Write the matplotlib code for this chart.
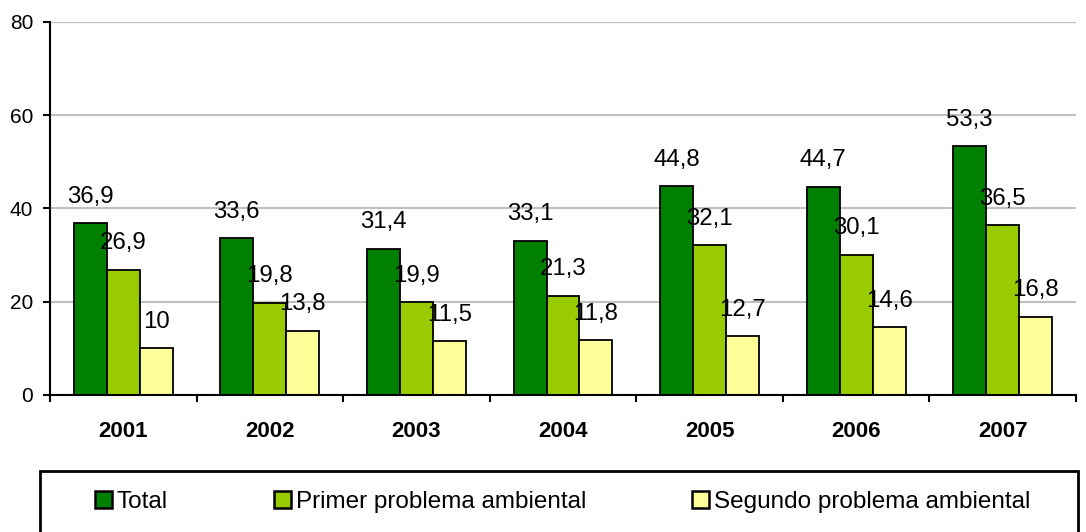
import matplotlib
matplotlib.use("Agg")
import matplotlib.pyplot as plt
import numpy as np
from matplotlib.patches import Patch, Rectangle

# datos del gráfico
anios = ["2001", "2002", "2003", "2004", "2005", "2006", "2007"]
total = [36.9, 33.6, 31.4, 33.1, 44.8, 44.7, 53.3]
primer = [26.9, 19.8, 19.9, 21.3, 32.1, 30.1, 36.5]
segundo = [10, 13.8, 11.5, 11.8, 12.7, 14.6, 16.8]

series = ["Total", "Primer problema ambiental", "Segundo problema ambiental"]
colores = ["#008000", "#99CC00", "#FFFF99"]

plt.rcParams["font.family"] = ["Liberation Sans", "DejaVu Sans"]

fig = plt.figure(figsize=(10.86, 5.32), dpi=100)
ax = fig.add_axes([50 / 1086, 1 - 395 / 532, 1026 / 1086, 373 / 532])

x = np.arange(len(anios))
ancho = 0.225
valores = [total, primer, segundo]

for i, (vals, col) in enumerate(zip(valores, colores)):
    pos = x + (i - 1) * ancho
    ax.bar(pos, vals, width=ancho, color=col, edgecolor="black", linewidth=1.3, zorder=3)
    for px, v in zip(pos, vals):
        etiqueta = f"{v:g}".replace(".", ",")
        ax.annotate(etiqueta, (px, v), xytext=(0, 11), textcoords="offset points",
                    ha="center", va="bottom", fontsize=17.3, zorder=4)

ax.set_xlim(-0.5, len(anios) - 0.5)
ax.set_ylim(0, 80)
ax.set_yticks([0, 20, 40, 60, 80])
ax.yaxis.grid(True, color="#C0C0C0", linewidth=1.5, zorder=0)
ax.axhline(80, color="#808080", linewidth=1.5, zorder=1)

ax.set_xticks(x)
ax.set_xticklabels(anios, fontweight="bold", fontsize=16)
ax.set_xticks(np.arange(len(anios) + 1) - 0.5, minor=True)
ax.tick_params(axis="x", which="major", length=0, pad=19)
ax.tick_params(axis="x", which="minor", length=5, width=1.5, direction="out")
ax.tick_params(axis="y", length=5, width=1.5, labelsize=15, pad=7)

for lado in ["top", "right"]:
    ax.spines[lado].set_visible(False)
for lado in ["left", "bottom"]:
    ax.spines[lado].set_linewidth(1.5)
    ax.spines[lado].set_zorder(5)

# recuadro de la leyenda
fig.patches.append(Rectangle((40 / 1086, -0.05), 1038 / 1086, 0.05 + 1 - 471 / 532,
                             transform=fig.transFigure, fill=False,
                             edgecolor="black", linewidth=2))

handles = [Patch(facecolor=c, edgecolor="black", linewidth=1.8) for c in colores]
fig.legend(handles, series, loc="center left", bbox_to_anchor=(95 / 1086, 1 - 502 / 532),
           ncol=3, frameon=False, fontsize=17.5, handlelength=0.70, handleheight=0.70,
           handletextpad=0.2, columnspacing=4.35, borderaxespad=0, borderpad=0)

fig.savefig("out.png", dpi=100)
